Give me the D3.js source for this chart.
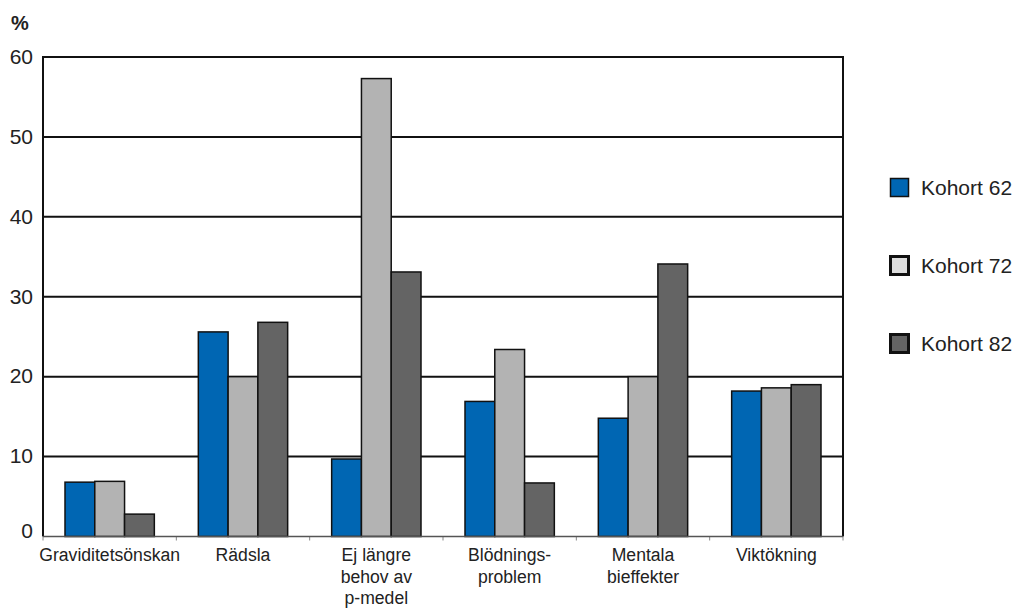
<!DOCTYPE html>
<html>
<head>
<meta charset="utf-8">
<script src="https://cdn.jsdelivr.net/npm/d3@7"></script>
<style>
  html, body { margin: 0; padding: 0; background: #fff; }
  svg { display: block; font-family: "Liberation Sans", Arial, Helvetica, sans-serif; }
</style>
</head>
<body>
<svg id="chart" width="1016" height="608"></svg>
<script>
// Reasons for stopping use of contraceptives, per cohort (%)
const categories = [
  ["Graviditetsönskan"],
  ["Rädsla"],
  ["Ej längre", "behov av", "p-medel"],
  ["Blödnings-", "problem"],
  ["Mentala", "bieffekter"],
  ["Viktökning"]
];
const seriesNames = ["Kohort 62", "Kohort 72", "Kohort 82"];
const kohort62 = [6.8, 25.6, 9.7, 16.9, 14.8, 18.2];
const kohort72 = [6.9, 20.0, 57.3, 23.4, 20.0, 18.6];
const kohort82 = [2.8, 26.8, 33.1, 6.7, 34.1, 19.0];
const yTicks = [0, 10, 20, 30, 40, 50, 60];

const series = [kohort62, kohort72, kohort82];
const barColors = ["#0066b3", "#b3b3b3", "#646464"];
const legendColors = ["#0066b3", "#dedede", "#646464"];

const svg = d3.select("#chart");
const m = { left: 43, right: 843, top: 57, bottom: 536.5 };

const x = d3.scaleBand()
  .domain(d3.range(categories.length))
  .range([m.left, m.right])
  .paddingInner(0.33)
  .paddingOuter(0.165);
const xs = d3.scaleBand().domain(d3.range(series.length)).range([0, x.bandwidth()]);
const y = d3.scaleLinear().domain([0, 60]).range([m.bottom, m.top]);

// horizontal grid lines
svg.append("g").selectAll("line")
  .data(yTicks.filter(d => d > 0))
  .join("line")
  .attr("x1", m.left).attr("x2", m.right)
  .attr("y1", d => y(d)).attr("y2", d => y(d))
  .attr("stroke", "#111").attr("stroke-width", 2);

// frame: left and right sides
svg.append("line").attr("x1", m.left).attr("x2", m.left)
  .attr("y1", m.top - 1).attr("y2", m.bottom)
  .attr("stroke", "#111").attr("stroke-width", 2);
svg.append("line").attr("x1", m.right).attr("x2", m.right)
  .attr("y1", m.top - 1).attr("y2", m.bottom)
  .attr("stroke", "#111").attr("stroke-width", 2);

// category separators below baseline
const bandStep = (m.right - m.left) / categories.length;
svg.append("g").selectAll("line")
  .data(d3.range(categories.length + 1))
  .join("line")
  .attr("x1", i => m.left + i * bandStep).attr("x2", i => m.left + i * bandStep)
  .attr("y1", m.bottom).attr("y2", m.bottom + 4)
  .attr("stroke", "#888").attr("stroke-width", 1);

// bars
series.forEach((vals, s) => {
  svg.append("g").selectAll("rect")
    .data(vals)
    .join("rect")
    .attr("x", (d, i) => x(i) + xs(s))
    .attr("width", xs.bandwidth())
    .attr("y", d => y(d))
    .attr("height", d => y(0) - y(d))
    .attr("fill", barColors[s])
    .attr("stroke", "#111")
    .attr("stroke-width", 1.5);
});

// baseline
svg.append("line").attr("x1", m.left).attr("x2", m.right)
  .attr("y1", m.bottom).attr("y2", m.bottom)
  .attr("stroke", "#555").attr("stroke-width", 1.5);

// y axis tick labels
const yAxis = d3.axisLeft(y).tickValues(yTicks).tickSize(0).tickPadding(10);
const ya = svg.append("g").attr("transform", `translate(${m.left},0)`).call(yAxis);
ya.select(".domain").remove();
ya.selectAll("text")
  .attr("font-size", 21).attr("fill", "#222")
  .attr("font-family", "Liberation Sans, Arial, sans-serif")
  .attr("dy", "0.3em");
ya.selectAll(".tick").filter(d => d === 0).select("text").attr("dy", "0.05em");

svg.append("text").attr("x", 11).attr("y", 30)
  .attr("font-size", 20).attr("font-weight", "bold").attr("fill", "#222")
  .text("%");

// category labels
const cl = svg.append("g");
categories.forEach((lines, i) => {
  const t = cl.append("text")
    .attr("x", m.left + (i + 0.5) * bandStep)
    .attr("y", 561)
    .attr("text-anchor", "middle")
    .attr("font-size", 17.6).attr("fill", "#222");
  lines.forEach((ln, k) => {
    t.append("tspan").attr("x", m.left + (i + 0.5) * bandStep)
      .attr("dy", k === 0 ? 0 : 21.5).text(ln);
  });
});

// legend
const legendY = d3.scalePoint().domain(seriesNames).range([187, 343]);
const lg = svg.append("g").selectAll("g")
  .data(seriesNames)
  .join("g")
  .attr("transform", d => `translate(889,${legendY(d)})`);
lg.append("rect")
  .attr("x", 1.5).attr("y", -8.5).attr("width", 18).attr("height", 18)
  .attr("fill", (d, i) => legendColors[i])
  .attr("stroke", "#111").attr("stroke-width", (d, i) => i === 0 ? 1.5 : 3);
lg.append("text")
  .attr("x", 32).attr("y", 8)
  .attr("font-size", 21).attr("fill", "#222")
  .text(d => d);
</script>
</body>
</html>
